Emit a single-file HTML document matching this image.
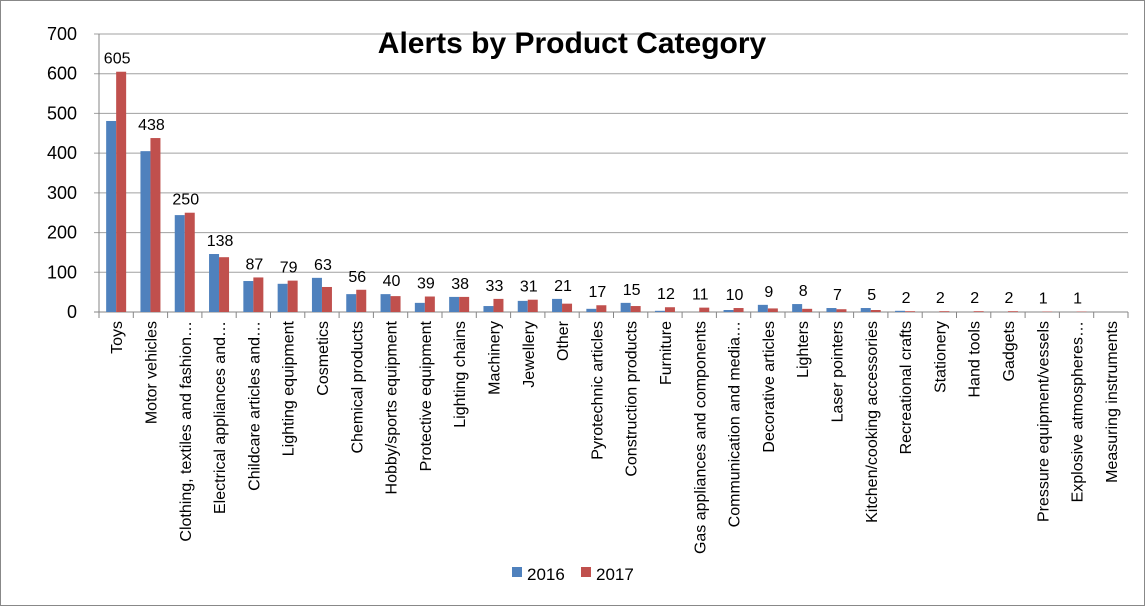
<!DOCTYPE html>
<html><head><meta charset="utf-8"><style>
body{margin:0;background:#fff;font-family:"Liberation Sans",sans-serif}
</style></head><body>
<svg id="chart" width="1145" height="606" xmlns="http://www.w3.org/2000/svg" font-family="Liberation Sans, sans-serif">
<rect x="0.5" y="0.5" width="1144" height="605" fill="#fff" stroke="#888"/>
<g id="grid"></g><g id="bars"></g><g id="labels"></g>
<text x="572" y="53" text-anchor="middle" font-size="30" font-weight="bold">Alerts by Product Category</text>
<g>
<rect x="512" y="567" width="10" height="10" fill="#4f81bd"/>
<text x="527" y="580" font-size="17">2016</text>
<rect x="581" y="567" width="10" height="10" fill="#c0504d"/>
<text x="596" y="580" font-size="17">2017</text>
</g>
</svg>
<script>
const categories=["Toys","Motor vehicles","Clothing, textiles and fashion…","Electrical appliances and…","Childcare articles and…","Lighting equipment","Cosmetics","Chemical products","Hobby/sports equipment","Protective equipment","Lighting chains","Machinery","Jewellery","Other","Pyrotechnic articles","Construction products","Furniture","Gas appliances and components","Communication and media…","Decorative articles","Lighters","Laser pointers","Kitchen/cooking accessories","Recreational crafts","Stationery","Hand tools","Gadgets","Pressure equipment/vessels","Explosive atmospheres…","Measuring instruments"];
const values2016=[481,405,244,146,78,71,86,45,45,23,38,15,28,33,8,23,3,0,5,18,20,10,10,3,0,0,0,0,0,0];
const values2017=[605,438,250,138,87,79,63,56,40,39,38,33,31,21,17,15,12,11,10,9,8,7,5,2,2,2,2,1,1,0];
const yTicks=[0,100,200,300,400,500,600,700];
const NS="http://www.w3.org/2000/svg";
const x0=99,x1=1128,y0=312,y1=34,yMax=700;
const n=categories.length;
const bw=(x1-x0)/n;
const Y=v=>y0-(v/yMax)*(y0-y1);
const X=i=>x0+bw*(i+0.5);
function mk(tag,attrs,parent){const e=document.createElementNS(NS,tag);for(const k in attrs)e.setAttribute(k,attrs[k]);parent.appendChild(e);return e;}
const grid=document.getElementById('grid'),bars=document.getElementById('bars'),labels=document.getElementById('labels');
yTicks.forEach(t=>{
  const l=mk('line',{x1:x0-5,x2:x1,y1:Y(t),y2:Y(t),stroke:t===0?'#868686':'#a0a0a0','stroke-width':1},grid);
  
  
  const tx=mk('text',{x:x0-22,y:Y(t)+6,'text-anchor':'end','font-size':18},grid);
  tx.textContent=t;
  
  
});
const ax=mk('line',{x1:x0,x2:x0,y1:y1,y2:y0+5,stroke:'#868686'},grid);


for(let i=0;i<=n;i++){
  const t=mk('line',{x1:x0+bw*i,x2:x0+bw*i,y1:y0,y2:y0+6,stroke:'#868686'},grid);
  
  
}
categories.forEach((c,i)=>{
  const cx=X(i);
  const b1=mk('rect',{x:cx-10,y:Y(values2016[i]),width:10,height:y0-Y(values2016[i]),fill:'#4f81bd'},bars);
  
  
  const b2=mk('rect',{x:cx,y:Y(values2017[i]),width:10,height:y0-Y(values2017[i]),fill:'#c0504d'},bars);
  
  
  if(values2017[i]>0){
    const v=mk('text',{x:cx+1,y:Math.min(Y(values2017[i]),Y(values2016[i]))-8,'text-anchor':'middle','font-size':16},labels);
    v.textContent=values2017[i];
    
    
  }
  const lb=mk('text',{x:0,y:0,'text-anchor':'end','font-size':16,transform:`translate(${cx+6},${y0+9}) rotate(-90)`},labels);
  lb.textContent=c;
  
  
});
</script>
</body></html>
